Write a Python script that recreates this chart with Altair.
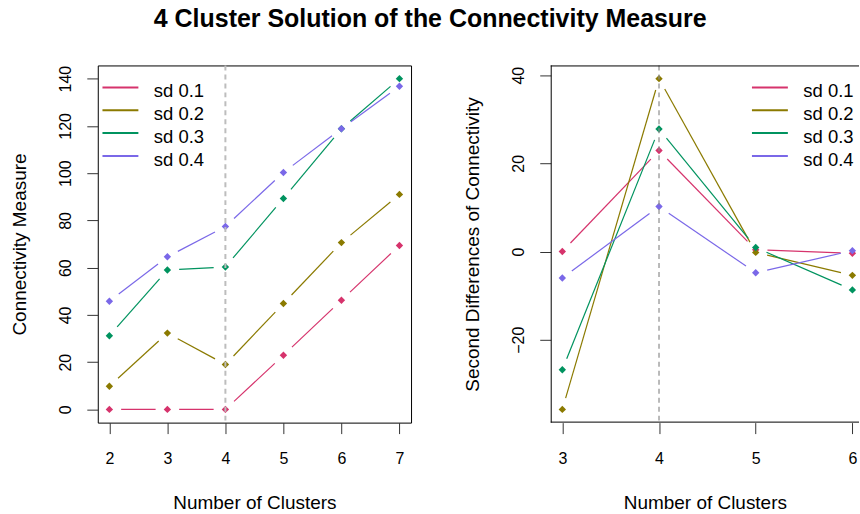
import math
import altair as alt
import pandas as pd

# ---- data -------------------------------------------------------------
k_all = [2, 3, 4, 5, 6, 7]          # number of clusters (connectivity)
k_diff = [3, 4, 5, 6]               # number of clusters (second differences)
series = ["sd 0.1", "sd 0.2", "sd 0.3", "sd 0.4"]
colors = ["#D6336C", "#8B7A00", "#00935F", "#7A68E8"]
chosen_k = 4

conn_sd01 = [0.0, 0.0, 0.0, 22.9, 46.2, 69.4]
conn_sd02 = [9.8, 32.3, 19.0, 44.8, 70.6, 91.0]
conn_sd03 = [31.2, 59.0, 60.3, 89.3, 118.8, 140.0]
conn_sd04 = [45.8, 64.6, 77.4, 100.3, 118.8, 136.8]

diff_sd01 = [0.0, 22.9, 0.4, -0.4]
diff_sd02 = [-35.8, 39.2, -0.2, -5.4]
diff_sd03 = [-26.8, 27.8, 0.9, -8.7]
diff_sd04 = [-6.0, 10.2, -4.8, 0.2]

conn = [conn_sd01, conn_sd02, conn_sd03, conn_sd04]
diff = [diff_sd01, diff_sd02, diff_sd03, diff_sd04]

# ---- layout -----------------------------------------------------------
W_L, W_R, H = 314, 309, 358
FONT = "Liberation Sans"
GAP = 11.8            # gap (px) left around each point, like type = "b"
ONE = pd.DataFrame({"i": [0]})


def padded(lo, hi, frac=0.04):
    d = (hi - lo) * frac
    return [lo - d, hi + d]


xdom_L = padded(min(k_all), max(k_all))
ydom_L = padded(min(map(min, conn)), max(map(max, conn)))
xr = padded(min(k_diff), max(k_diff))
# right panel is cut at the page edge: keep the same px/unit, shorter span
xdom_R = [xr[0], xr[0] + (xr[1] - xr[0]) * W_R / 314]
ydom_R = padded(min(map(min, diff)), max(map(max, diff)))


def long_table(ks, values):
    rows = []
    for name, vals in zip(series, values):
        for k, v in zip(ks, vals):
            rows.append({"k": k, "v": v, "series": name})
    return pd.DataFrame(rows)


def gap_segments(ks, values, xdom, ydom, w, h):
    sx = w / (xdom[1] - xdom[0])
    sy = h / (ydom[1] - ydom[0])
    rows = []
    for name, vals in zip(series, values):
        for i in range(len(ks) - 1):
            x0, x1, y0, y1 = ks[i], ks[i + 1], vals[i], vals[i + 1]
            L = math.hypot((x1 - x0) * sx, (y1 - y0) * sy)
            if L <= 2 * GAP:
                continue
            t = GAP / L
            rows.append({
                "series": name,
                "k": x0 + t * (x1 - x0), "v": y0 + t * (y1 - y0),
                "k2": x1 - t * (x1 - x0), "v2": y1 - t * (y1 - y0),
            })
    return pd.DataFrame(rows)


color_enc = alt.Color("series:N", scale=alt.Scale(domain=series, range=colors),
                      legend=None)


def panel(ks, values, xdom, ydom, w, ytitle, yvalues, legend_x, dash_color, dash_width,
          frame=False):
    pts = long_table(ks, values)
    seg = gap_segments(ks, values, xdom, ydom, w, H)
    xs = alt.Scale(domain=xdom, nice=False, zero=False)
    ys = alt.Scale(domain=ydom, nice=False, zero=False)

    xax = alt.Axis(values=ks, title="Number of Clusters", tickSize=11,
                   labelPadding=29.5, labelBaseline="alphabetic",
                   titleX=w / 2, titleY=86, titleBaseline="alphabetic",
                   titleAlign="center", grid=False, domain=False)
    yax = alt.Axis(values=yvalues, title=ytitle, tickSize=11, labelPadding=16,
                   labelAngle=270, labelAlign="center", labelBaseline="alphabetic",
                   titleAngle=270, titleX=-72, titleY=H / 2, titleAlign="center",
                   titleBaseline="alphabetic", grid=False, domain=False)
    X = alt.X("k:Q", scale=xs, axis=xax)
    Y = alt.Y("v:Q", scale=ys, axis=yax)

    lines = alt.Chart(seg).mark_rule(strokeWidth=1.2).encode(
        x=X, y=Y, x2="k2:Q", y2="v2:Q", color=color_enc,
    )
    dots = alt.Chart(pts).mark_point(shape="diamond", filled=True, size=55,
                                     opacity=1, strokeWidth=0).encode(
        x=X, y=Y, color=color_enc,
    )
    vline = alt.Chart(pd.DataFrame({"k": [chosen_k]})).mark_rule(
        strokeDash=[5, 4], color=dash_color, strokeWidth=dash_width).encode(
        x=X, y=alt.value(0), y2=alt.value(H),
    )
    layers = [lines, dots, vline]

    # legend: line keys and labels, four rows
    for i, (name, col) in enumerate(zip(series, colors)):
        ly = 22 + 22.9 * i
        layers.append(alt.Chart(ONE).mark_rule(strokeWidth=2, color=col).encode(
            x=alt.value(legend_x), x2=alt.value(legend_x + 36),
            y=alt.value(ly), y2=alt.value(ly)))
        layers.append(alt.Chart(ONE).mark_text(
            align="left", baseline="alphabetic", font=FONT, fontSize=18.5,
            color="black", text=name).encode(
            x=alt.value(legend_x + 51.5), y=alt.value(ly + 9.7)))

    if frame:
        layers += [
            alt.Chart(ONE).mark_rule(color="black", strokeWidth=1).encode(
                x=alt.value(0), x2=alt.value(w), y=alt.value(0.5), y2=alt.value(0.5)),
            alt.Chart(ONE).mark_rule(color="black", strokeWidth=1).encode(
                x=alt.value(0), x2=alt.value(w), y=alt.value(H - 0.5), y2=alt.value(H - 0.5)),
            alt.Chart(ONE).mark_rule(color="black", strokeWidth=1).encode(
                x=alt.value(0.5), x2=alt.value(0.5), y=alt.value(0), y2=alt.value(H)),
        ]
    ch = alt.layer(*layers).properties(width=w, height=H)
    if frame:
        ch = ch.properties(view=alt.ViewBackground(stroke="transparent"))
    return ch


left = panel(k_all, conn, xdom_L, ydom_L, W_L, "Connectivity Measure",
             [0, 20, 40, 60, 80, 100, 120, 140], 4.7, "#BDBDBD", 2)
right = panel(k_diff, diff, xdom_R, ydom_R, W_R, "Second Differences of Connectivity",
              [-20, 0, 20, 40], 201.7, "#8C8C8C", 1.2, frame=True)

chart = alt.hconcat(left, right, spacing=140, bounds="flush").properties(
    padding={"left": 10, "top": 6, "right": 0, "bottom": 0},
    title=alt.TitleParams(
        text="4 Cluster Solution of the Connectivity Measure",
        font=FONT, fontSize=25, fontWeight="bold", color="black",
        anchor="middle", baseline="alphabetic", offset=12, dx=-5),
).configure_view(stroke="black", strokeWidth=1).configure_axis(
    labelFont=FONT, titleFont=FONT, labelFontSize=16, titleFontSize=19,
    titleFontWeight="normal", labelColor="black", titleColor="black",
    tickColor="#333333", tickWidth=1,
)

chart.save("out.html", embed_options={"renderer": "svg", "actions": False})
